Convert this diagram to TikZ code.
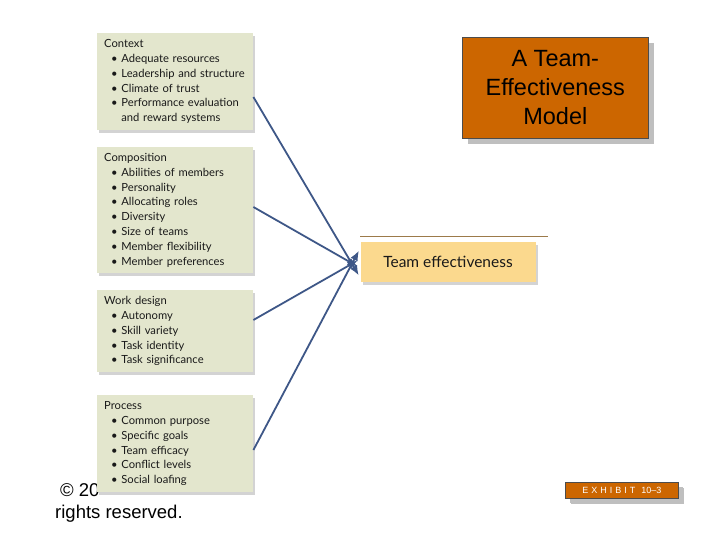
\documentclass[tikz,border=0pt]{standalone}
\usepackage{fontspec}
\setmainfont{Liberation Sans}
\newfontfamily\boxfont{Lato}
\usetikzlibrary{positioning, shadows, arrows.meta}
\hyphenpenalty=10000

\definecolor{factorfill}{HTML}{E3E6CD}
\definecolor{outfill}{HTML}{FBD98E}
\definecolor{titlefill}{HTML}{CC6600}
\definecolor{arrowblue}{HTML}{3E5787}
\definecolor{rulebrown}{HTML}{9C7A4A}

\tikzset{
  factor/.style={anchor=north west, fill=factorfill, text=black!90,
    text width=152pt, minimum width=156pt, inner xsep=2pt, inner ysep=4pt,
    align=left, font=\boxfont\fontsize{11.2}{14.8}\selectfont,
    drop shadow={opacity=0.35, shadow xshift=2pt, shadow yshift=-3pt}},
  outcome/.style={fill=outfill, minimum width=175pt, minimum height=40pt,
    font=\boxfont\fontsize{15.5}{17}\selectfont, text=black!90,
    drop shadow={opacity=0.35, shadow xshift=2pt, shadow yshift=-3pt}},
  titlebox/.style={fill=titlefill, draw=black!70, line width=0.6pt,
    drop shadow={fill=black!25, opacity=1, shadow xshift=6pt, shadow yshift=-6pt}},
  feed/.style={-{Latex[length=10pt, width=8pt]}, arrowblue, line width=1.8pt, shorten >=3pt}
}
\newcommand{\hd}{\hspace*{5pt}}
\newcommand{\bul}{\hspace*{12pt}\textbullet\ }
\newcommand{\cont}{\hspace*{12pt}\hphantom{\textbullet\ }}

\begin{document}
\begin{tikzpicture}[x=1pt, y=-1pt]
  \useasboundingbox (0,0) rectangle (720,540);

  % copyright, mostly hidden
  \node[anchor=north west, inner sep=0pt, font=\fontsize{18.5}{20}\selectfont] (copy1) at (60,483) {© 20};
  \node[anchor=north west, inner sep=0pt, font=\fontsize{18.5}{20}\selectfont] (copy2) at (55,505) {rights reserved.};

  % the four groups of factors
  \node[factor, minimum height=97pt] (context) at (97,33)
    {\hd Context\\ \bul Adequate resources\\ \bul Leadership and structure\\
     \bul Climate of trust\\ \bul Performance evaluation\\ \cont and reward systems};
  \node[factor, minimum height=126pt] (compo) at (97,147)
    {\hd Composition\\ \bul Abilities of members\\ \bul Personality\\ \bul Allocating roles\\
     \bul Diversity\\ \bul Size of teams\\ \bul Member flexibility\\ \bul Member preferences};
  \node[factor, minimum height=82pt] (work) at (97,290)
    {\hd Work design\\ \bul Autonomy\\ \bul Skill variety\\ \bul Task identity\\ \bul Task significance};
  \node[factor, minimum height=97pt] (process) at (97,395)
    {\hd Process\\ \bul Common purpose\\ \bul Specific goals\\ \bul Team efficacy\\
     \bul Conflict levels\\ \bul Social loafing};

  % outcome
  \node[outcome] (effect) at (448,262) {Team effectiveness};
  \coordinate (ruleA) at (360,236);
  \coordinate (ruleB) at (548,236);
  \draw[rulebrown, line width=0.8pt] (ruleA) -- (ruleB);

  \draw[feed] (context.east |- 0,97) -- ([yshift=-16pt]effect.west);
  \draw[feed] (compo.east |- 0,207) -- ([yshift=-6pt]effect.west);
  \draw[feed] (work.east |- 0,320) -- ([yshift=3pt]effect.west);
  \draw[feed] (process.east |- 0,450) -- ([yshift=14pt]effect.west);

  % title and exhibit tag
  \node[titlebox, anchor=north west, minimum width=186pt, minimum height=101pt, align=center,
        font=\fontsize{23.5}{29}\selectfont] (title) at (462,37)
    {A Team-\\Effectiveness\\Model};
  \node[titlebox, anchor=north west, minimum width=113pt, minimum height=16pt, inner sep=0pt,
        text=white, font=\fontsize{9}{10}\selectfont,
        drop shadow={fill=black!25, opacity=1, shadow xshift=5pt, shadow yshift=-5pt}] (exhibit) at (565,482)
    {E\,\,X\,\,H\,\,I\,\,B\,\,I\,\,T\,\,\,\,10--3};
\end{tikzpicture}
\end{document}
